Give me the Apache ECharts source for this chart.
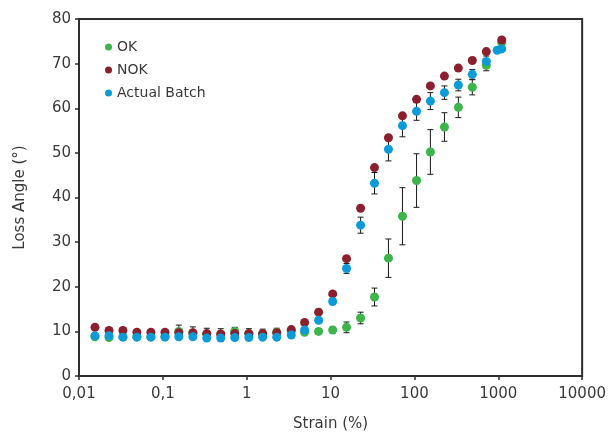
<!DOCTYPE html>
<html>
<head>
<meta charset="utf-8">
<script src="https://cdn.jsdelivr.net/npm/echarts@6/dist/echarts.min.js"></script>
<style>
  html, body { margin: 0; padding: 0; background: #fff; }
  #chart { width: 609px; height: 437px; }
</style>
</head>
<body>
<div id="chart"></div>
<script>
// strain (%) values shared by OK and NOK
var strain = [0.0155, 0.0228, 0.0334, 0.049, 0.072, 0.106, 0.155, 0.228, 0.334, 0.49,
  0.72, 1.06, 1.55, 2.28, 3.4, 4.9, 7.2, 10.6, 15.5, 22.8,
  33.4, 49, 72, 106, 155, 228, 334, 490, 720, 1100]
var okAngle = [8.8, 8.6, 8.8, 8.8, 8.8, 8.9, 10.0, 9.6, 9.4, 9.3,
  10.0, 9.5, 9.5, 9.8, 10.1, 9.8, 10.0, 10.3, 10.9, 13.0,
  17.7, 26.4, 35.8, 43.8, 50.2, 55.8, 60.2, 64.7, 69.6, 74.7]
var okErr = [0.2, 0.2, 0.2, 0.2, 0.2, 0.3, 1.4, 1.4, 1.3, 1.3,
  0.9, 1.1, 1.0, 0.9, 0.6, 0.5, 0.6, 0.6, 1.2, 1.3,
  2.0, 4.3, 6.4, 6.0, 5.0, 3.2, 2.3, 1.7, 1.2, 0.6]
var nokAngle = [10.9, 10.2, 10.2, 9.8, 9.8, 9.8, 9.7, 9.7, 9.5, 9.4,
  9.5, 9.5, 9.5, 9.7, 10.4, 12.0, 14.3, 18.4, 26.3, 37.6,
  46.7, 53.4, 58.3, 62.0, 65.0, 67.2, 69.0, 70.7, 72.7, 75.3]
// actual batch has one extra point near 1000 %
var strainActual = [0.0155, 0.0228, 0.0334, 0.049, 0.072, 0.106, 0.155, 0.228, 0.334, 0.49,
  0.72, 1.06, 1.55, 2.28, 3.4, 4.9, 7.2, 10.6, 15.5, 22.8,
  33.4, 49, 72, 106, 155, 228, 334, 490, 720, 970, 1100]
var actualAngle = [9.0, 9.0, 8.7, 8.7, 8.7, 8.7, 8.8, 8.8, 8.5, 8.5,
  8.6, 8.6, 8.7, 8.7, 9.2, 10.3, 12.5, 16.7, 24.1, 33.8,
  43.2, 50.8, 56.1, 59.3, 61.6, 63.5, 65.2, 67.6, 70.5, 73.0, 73.3]
var actualErr = [0.2, 0.2, 0.2, 0.2, 0.2, 0.2, 0.2, 0.2, 0.2, 0.2,
  0.2, 0.2, 0.2, 0.2, 0.3, 0.4, 0.5, 0.6, 1.1, 1.8,
  2.4, 2.6, 2.5, 2.0, 1.9, 1.5, 1.3, 1.1, 1.2, 0.3, 0.3]
var xTicks = [0.01, 0.1, 1, 10, 100, 1000, 10000]

var myChart = echarts.init(document.getElementById('chart'))
var font = 'DejaVu Sans'
var textColor = '#3a3a3a'

function pairs (xs, ys) {
  return xs.map(function (x, i) { return [x, ys[i]] })
}
function errData (xs, ys, es) {
  return xs.map(function (x, i) { return [x, ys[i] - es[i], ys[i] + es[i]] })
}
function renderErr (params, api) {
  var top = api.coord([api.value(0), api.value(2)])
  var bot = api.coord([api.value(0), api.value(1)])
  var st = { stroke: '#1a1a1a', lineWidth: 1 }
  return {
    type: 'group',
    children: [
      { type: 'line', shape: { x1: top[0], y1: top[1], x2: bot[0], y2: bot[1] }, style: st },
      { type: 'line', shape: { x1: top[0] - 3, y1: top[1], x2: top[0] + 3, y2: top[1] }, style: st },
      { type: 'line', shape: { x1: bot[0] - 3, y1: bot[1], x2: bot[0] + 3, y2: bot[1] }, style: st }
    ]
  }
}

var option = {
  animation: false,
  grid: {
    left: 79, right: 26, top: 19, bottom: 58,
    show: true, borderColor: '#2e2e2e', borderWidth: 2
  },
  legend: {
    data: ['OK', 'NOK', 'Actual Batch'],
    orient: 'vertical',
    left: 100, top: 35,
    icon: 'circle',
    itemWidth: 7, itemHeight: 7,
    itemGap: 9,
    textStyle: { fontFamily: font, fontSize: 14, color: textColor }
  },
  xAxis: {
    type: 'log',
    logBase: 10,
    min: 0.01,
    max: 10000,
    name: 'Strain (%)',
    nameLocation: 'middle',
    nameGap: 41,
    nameTextStyle: { fontFamily: font, fontSize: 15, color: textColor },
    axisLine: { lineStyle: { color: '#2e2e2e', width: 2 } },
    axisTick: { length: 4, lineStyle: { color: '#2e2e2e', width: 1.5 } },
    minorTick: { show: false },
    splitLine: { show: false },
    axisLabel: {
      fontFamily: font, fontSize: 15, color: textColor, margin: 11,
      formatter: function (v) {
        var best = xTicks.reduce(function (a, b) {
          return Math.abs(Math.log10(b) - Math.log10(v)) < Math.abs(Math.log10(a) - Math.log10(v)) ? b : a
        })
        return String(best).replace('.', ',')
      }
    }
  },
  yAxis: {
    type: 'value',
    min: 0,
    max: 80,
    interval: 10,
    name: 'Loss Angle (°)',
    nameLocation: 'middle',
    nameGap: 51,
    nameTextStyle: { fontFamily: font, fontSize: 15, color: textColor },
    axisLine: { show: true, lineStyle: { color: '#2e2e2e', width: 2 } },
    axisTick: { show: true, length: 4, lineStyle: { color: '#2e2e2e', width: 1.5 } },
    splitLine: { show: false },
    axisLabel: { fontFamily: font, fontSize: 15, color: textColor, margin: 8 }
  },
  series: [
    {
      name: 'okErr', type: 'custom', z: 1,
      renderItem: renderErr,
      data: errData(strain, okAngle, okErr)
    },
    {
      name: 'actualErr', type: 'custom', z: 1,
      renderItem: renderErr,
      data: errData(strainActual, actualAngle, actualErr)
    },
    {
      name: 'OK', type: 'scatter', z: 2,
      symbolSize: 9,
      itemStyle: { color: '#3cb54a', opacity: 1 },
      data: pairs(strain, okAngle)
    },
    {
      name: 'NOK', type: 'scatter', z: 3,
      symbolSize: 9,
      itemStyle: { color: '#8c1f2d', opacity: 1 },
      data: pairs(strain, nokAngle)
    },
    {
      name: 'Actual Batch', type: 'scatter', z: 4,
      symbolSize: 9,
      itemStyle: { color: '#0b9bd8', opacity: 1 },
      data: pairs(strainActual, actualAngle)
    }
  ]
}

myChart.setOption(option)
window.addEventListener('resize', function () {
  myChart.resize()
})
</script>
</body>
</html>
